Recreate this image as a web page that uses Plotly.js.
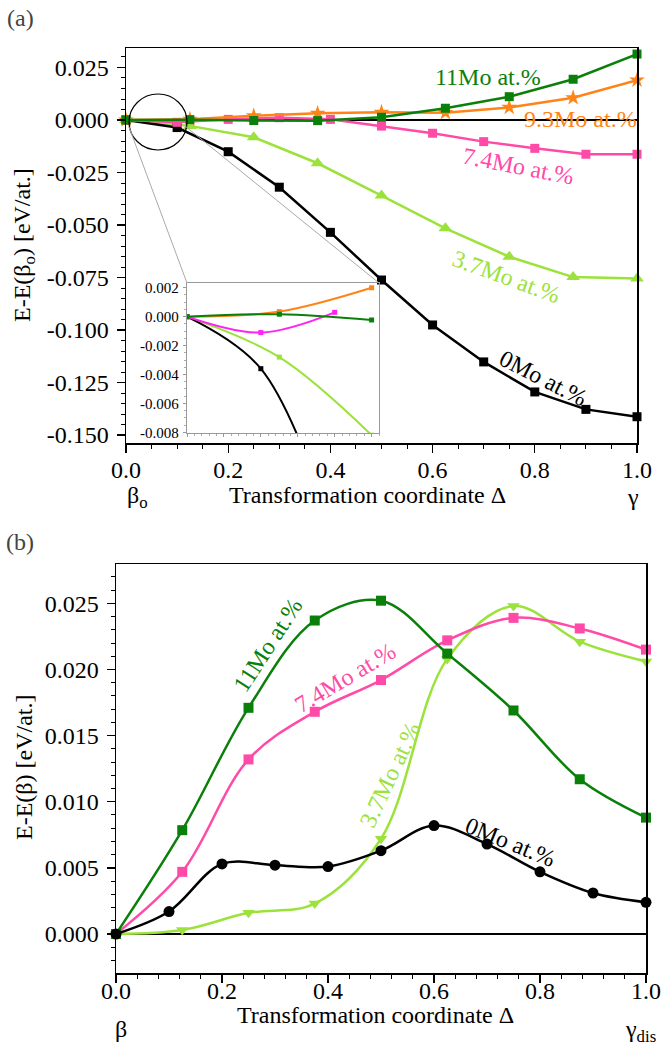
<!DOCTYPE html>
<html>
<head>
<meta charset="utf-8">
<script src="https://cdn.plot.ly/plotly-3.0.1.min.js"></script>
<style>html,body{margin:0;padding:0;background:#fff;}#chart{width:663px;height:1051px;}</style>
</head>
<body>
<div id="chart"></div>
<script>
// ---------- DATA ----------
// panel (a): E - E(beta_o)
const xTenths = [0, 0.1, 0.2, 0.3, 0.4, 0.5, 0.6, 0.7, 0.8, 0.9, 1.0];
const xEighths = [0, 0.125, 0.25, 0.375, 0.5, 0.625, 0.75, 0.875, 1.0];

const a_0Mo  = [0, -0.0036, -0.0151, -0.0320, -0.0535, -0.0762, -0.0976, -0.1152, -0.1295, -0.1378, -0.1413];
const a_37Mo = [0, -0.0028, -0.0082, -0.0206, -0.0360, -0.0516, -0.0651, -0.0748, -0.0755];
const a_74Mo = [0, -0.0011, 0.0003, 0.0011, 0.0003, -0.0029, -0.0063, -0.0103, -0.0135, -0.0163, -0.0163];
const a_93Mo = [0, 0.00035, 0.0020, 0.0032, 0.0037, 0.0035, 0.0060, 0.0106, 0.0190];
const a_11Mo = [0, 0.00017, -0.00023, -0.0003, 0.0013, 0.0056, 0.0111, 0.0194, 0.0314];

// number of leading points shown in the inset
const insetCount = 3;

// panel (b): E - E(beta)
const b_0Mo  = [0, 0.0017, 0.0053, 0.0052, 0.0051, 0.0063, 0.0082, 0.0068, 0.0047, 0.0031, 0.0024];
const b_37Mo = [0, 0.0003, 0.0016, 0.0023, 0.0072, 0.0208, 0.0248, 0.0221, 0.0206];
const b_74Mo = [0, 0.0047, 0.0132, 0.0168, 0.0192, 0.0222, 0.0239, 0.0231, 0.0215];
const b_11Mo = [0, 0.00785, 0.0171, 0.0237, 0.0252, 0.0212, 0.0169, 0.0117, 0.0088];

// tick labels
const xTickVals = [0, 0.2, 0.4, 0.6, 0.8, 1.0];
const xTickText = ["0.0", "0.2", "0.4", "0.6", "0.8", "1.0"];
const aTickVals = [0.025, 0, -0.025, -0.05, -0.075, -0.1, -0.125, -0.15];
const aTickText = ["0.025", "0.000", "-0.025", "-0.050", "-0.075", "-0.100", "-0.125", "-0.150"];
const insetTickVals = [0.002, 0, -0.002, -0.004, -0.006, -0.008];
const insetTickText = ["0.002", "0.000", "-0.002", "-0.004", "-0.006", "-0.008"];
const bTickVals = [0, 0.005, 0.01, 0.015, 0.02, 0.025];
const bTickText = ["0.000", "0.005", "0.010", "0.015", "0.020", "0.025"];

// ---------- STYLE ----------
const W = 663, H = 1051;
const PX = x => x / W;
const PY = y => 1 - y / H;
const FONT = '"Liberation Serif", "Times New Roman", Times, serif';
const C_GREEN = '#0a800a', C_ORANGE = '#ff8418', C_PINK = '#ff4aa8', C_LGREEN = '#9be23a', C_BLACK = '#000000', C_MAG = '#ff22f0';

function mainTrace(x, y, color, symbol, size, xa, ya, shape) {
  return {x: x, y: y, type: 'scatter', mode: 'lines+markers', xaxis: xa, yaxis: ya,
    line: {color: color, width: 2.5, shape: shape || 'linear', smoothing: 1},
    marker: {color: color, symbol: symbol, size: size}, cliponaxis: false, showlegend: false, hoverinfo: 'skip'};
}
function insetTrace(x, y, color) {
  return {x: x.slice(0, insetCount), y: y.slice(0, insetCount), type: 'scatter', mode: 'lines+markers',
    xaxis: 'x3', yaxis: 'y3', line: {color: color, width: 2, shape: 'spline', smoothing: 1},
    marker: {color: color, symbol: 'square', size: 5}, showlegend: false, hoverinfo: 'skip'};
}

const traces = [
  mainTrace(xEighths, a_37Mo, C_LGREEN, 'triangle-up', 12, 'x', 'y'),
  mainTrace(xTenths, a_0Mo, C_BLACK, 'square', 9, 'x', 'y'),
  mainTrace(xTenths, a_74Mo, C_PINK, 'square', 9, 'x', 'y'),
  mainTrace(xEighths, a_93Mo, C_ORANGE, 'star', 12, 'x', 'y'),
  mainTrace(xEighths, a_11Mo, C_GREEN, 'square', 9, 'x', 'y'),
  insetTrace(xEighths, a_37Mo, C_LGREEN),
  insetTrace(xTenths, a_0Mo, C_BLACK),
  insetTrace(xEighths, a_93Mo, C_ORANGE),
  insetTrace(xTenths, a_74Mo, C_MAG),
  insetTrace(xEighths, a_11Mo, C_GREEN),
  mainTrace(xEighths, b_37Mo, C_LGREEN, 'triangle-down', 11, 'x2', 'y2', 'spline'),
  mainTrace(xEighths, b_74Mo, C_PINK, 'square', 10, 'x2', 'y2', 'spline'),
  mainTrace(xEighths, b_11Mo, C_GREEN, 'square', 10, 'x2', 'y2', 'spline'),
  mainTrace(xTenths, b_0Mo, C_BLACK, 'circle', 11, 'x2', 'y2', 'spline')
];

const tickFont = {family: FONT, size: 24, color: '#000'};
function xAxis(domain, anchor, minorStep, standoff) {
  return {domain: domain, anchor: anchor, range: [0, 1], showgrid: false, zeroline: false,
    showline: true, linecolor: '#000', linewidth: 1.5, mirror: true,
    ticks: 'outside', ticklen: 8, tickwidth: 1.3, tickcolor: '#000',
    tickvals: xTickVals, ticktext: xTickText, tickfont: tickFont, ticklabelstandoff: standoff,
    minor: {dtick: minorStep, tick0: 0, ticks: 'outside', ticklen: 4, tickwidth: 1, tickcolor: '#000', showgrid: false}};
}
function yAxis(domain, anchor, range, vals, text, minorStep) {
  return {domain: domain, anchor: anchor, range: range, showgrid: false,
    zeroline: true, zerolinecolor: '#000', zerolinewidth: 1.3,
    showline: true, linecolor: '#000', linewidth: 1.5, mirror: true,
    ticks: 'outside', ticklen: 8, tickwidth: 1.3, tickcolor: '#000',
    tickvals: vals, ticktext: text, tickfont: tickFont, ticklabelstandoff: 3,
    minor: {dtick: minorStep, tick0: 0, ticks: 'outside', ticklen: 4, tickwidth: 1, tickcolor: '#000', showgrid: false}};
}

function ann(text, x, y, color, size, angle, extra) {
  return Object.assign({text: text, x: PX(x), y: PY(y), xref: 'paper', yref: 'paper', showarrow: false,
    xanchor: 'center', yanchor: 'middle', textangle: angle || 0,
    font: {family: FONT, size: size, color: color}}, extra || {});
}

const layout = {
  width: W, height: H, margin: {l: 0, r: 0, t: 0, b: 0},
  paper_bgcolor: '#fff', plot_bgcolor: 'rgba(0,0,0,0)', showlegend: false,
  font: {family: FONT, size: 24, color: '#000'},
  xaxis: xAxis([PX(126), PX(637)], 'y', 0.05, -4),
  yaxis: yAxis([PY(443.3), PY(48.3)], 'x', [-0.15395, 0.03414], aTickVals, aTickText, 0.005),
  xaxis2: xAxis([PX(116), PX(646)], 'y2', 0.04, -13),
  yaxis2: yAxis([PY(973.3), PY(564.3)], 'x2', [-0.00297, 0.02795], bTickVals, bTickText, 0.001),
  xaxis3: {domain: [PX(187), PX(379)], anchor: 'y3', range: [0, 0.26], showgrid: false, zeroline: false,
    showline: true, linecolor: '#999', linewidth: 1.2, mirror: true, ticks: 'outside', ticklen: 3,
    tickcolor: '#999', dtick: 0.05, showticklabels: false,
    minor: {dtick: 0.01, ticks: 'outside', ticklen: 2, tickcolor: '#aaa'}},
  yaxis3: {domain: [PY(433), PY(283)], anchor: 'x3', range: [-0.00805, 0.00233], showgrid: false, zeroline: false,
    showline: true, linecolor: '#999', linewidth: 1.2, mirror: true, ticks: 'outside', ticklen: 3,
    tickcolor: '#999', tickvals: insetTickVals, ticktext: insetTickText,
    tickfont: {family: FONT, size: 15, color: '#000'}, ticklabelstandoff: 1,
    minor: {dtick: 0.0005, ticks: 'outside', ticklen: 2, tickcolor: '#aaa'}},
  shapes: [
    {type: 'circle', xref: 'paper', yref: 'paper', x0: PX(129), x1: PX(187), y0: PY(150), y1: PY(94),
      line: {color: '#000', width: 1.2}},
    {type: 'line', xref: 'paper', yref: 'paper', x0: PX(129), y0: PY(127), x1: PX(187), y1: PY(283),
      line: {color: '#aaa', width: 1}},
    {type: 'line', xref: 'paper', yref: 'paper', x0: PX(185), y0: PY(126), x1: PX(379), y1: PY(283),
      line: {color: '#aaa', width: 1}}
  ],
  annotations: [
    ann('(a)', 20, 18, '#444', 24),
    ann('(b)', 20, 542, '#444', 24),
    ann('E-E(β<sub>o</sub>) [eV/at.]', 24, 245, '#000', 24, -90),
    ann('E-E(β) [eV/at.]', 24, 768, '#000', 24, -90),
    ann('β<sub>o</sub>', 137, 497, '#000', 24),
    ann('Transformation coordinate Δ', 367, 495, '#000', 24),
    ann('γ', 633, 497, '#000', 24),
    ann('β', 121, 1029, '#000', 24),
    ann('Transformation coordinate Δ', 375, 1015, '#000', 24),
    ann('γ<sub>dis</sub>', 640, 1031, '#000', 24),
    // panel (a) series labels
    ann('11Mo at.%', 488, 77, C_GREEN, 24),
    ann('9.3Mo at.%', 580, 119, C_ORANGE, 24),
    ann('7.4Mo at.%', 518, 166, C_PINK, 24, 11),
    ann('3.7Mo at.%', 507, 277, C_LGREEN, 24, 20),
    ann('0Mo at.%', 543, 378, C_BLACK, 24, 27),
    // panel (b) series labels
    ann('11Mo at.%', 268, 645, C_GREEN, 24, -57),
    ann('7.4Mo at.%', 345, 678, C_PINK, 24, -31),
    ann('3.7Mo at.%', 390, 775, C_LGREEN, 24, -65),
    ann('0Mo at.%', 510, 842, C_BLACK, 24, 22)
  ]
};

Plotly.newPlot('chart', traces, layout, {staticPlot: true, displayModeBar: false});
</script>
</body>
</html>
